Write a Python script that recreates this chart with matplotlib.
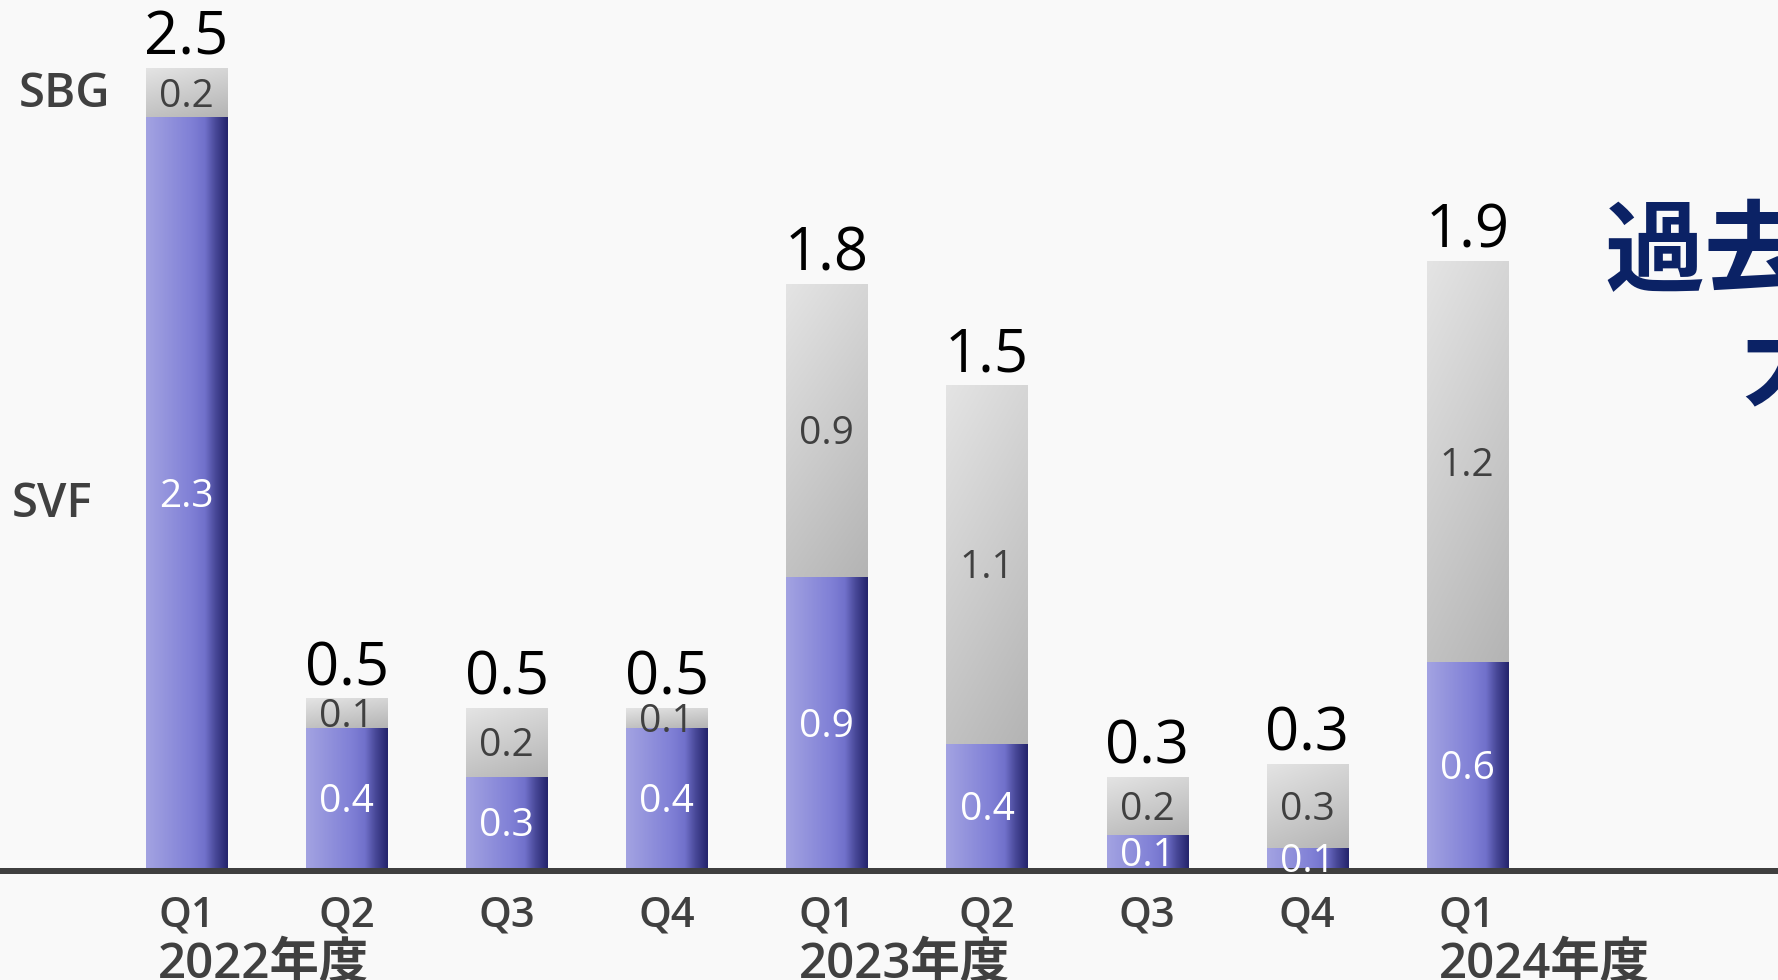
import numpy as np
import matplotlib
matplotlib.use("Agg")
import matplotlib.pyplot as plt
from matplotlib.transforms import blended_transform_factory, offset_copy

# ---------------- data ----------------
quarters = ["Q1", "Q2", "Q3", "Q4", "Q1", "Q2", "Q3", "Q4", "Q1"]
fiscal_years = ["2022年度", "2023年度", "2024年度"]
year_start_idx = [0, 4, 8]
series_names = ["SVF", "SBG"]

svf = [2.30, 0.43, 0.28, 0.43, 0.89, 0.38, 0.10, 0.06, 0.63]
sbg = [0.15, 0.09, 0.21, 0.06, 0.90, 1.10, 0.18, 0.26, 1.23]

svf_labels = ["2.3", "0.4", "0.3", "0.4", "0.9", "0.4", "0.1", "0.1", "0.6"]
sbg_labels = ["0.2", "0.1", "0.2", "0.1", "0.9", "1.1", "0.2", "0.3", "1.2"]
total_labels = ["2.5", "0.5", "0.5", "0.5", "1.8", "1.5", "0.3", "0.3", "1.9"]

headline = ["過去最大", "大幅増加"]

# ---------------- figure ----------------
W, H, DPI = 1778, 980, 100
PX = 72 / DPI  # points per pixel
LATIN = ["Open Sans", "Noto Sans", "DejaVu Sans"]
CJK = ["Open Sans", "Noto Sans CJK JP", "DejaVu Sans"]

fig = plt.figure(figsize=(W / DPI, H / DPI), dpi=DPI, facecolor="#f9f9f9")
ax = fig.add_axes([0, 112 / H, 1, 868 / H])
ax.set_facecolor("none")

x = np.arange(len(quarters))
bar_w = 0.506
bars_svf = ax.bar(x, svf, width=bar_w, color="none", linewidth=0, zorder=2)
bars_sbg = ax.bar(x, sbg, bottom=svf, width=bar_w, color="none", linewidth=0, zorder=2)

# horizontal gradient for SVF
t = np.linspace(0, 1, 256)
stops = [0.0, 0.55, 0.72, 0.85, 1.0]
cols = np.array([[163, 163, 226], [128, 128, 214], [113, 113, 203],
                 [72, 72, 152], [36, 36, 108]]) / 255.0
svf_img = np.stack([np.interp(t, stops, cols[:, c]) for c in range(3)], axis=-1)[None, :, :]

# diagonal gradient for SBG (light top-left, darker bottom-right)
ty, tx = np.mgrid[0:1:64j, 0:1:64j]
v = (228 - 34 * ty - 14 * tx) / 255.0
sbg_img = np.stack([v, v, v], axis=-1)


def gradient_fill(rect, img):
    x0, y0 = rect.get_x(), rect.get_y()
    w, h = rect.get_width(), rect.get_height()
    im = ax.imshow(img, extent=[x0, x0 + w, y0, y0 + h], aspect="auto",
                   interpolation="bilinear", zorder=2)
    im.set_clip_path(rect)


for r in bars_svf:
    gradient_fill(r, svf_img)
for r in bars_sbg:
    gradient_fill(r, sbg_img)

ax.set_xlim(-1.165, 9.941)
ax.set_ylim(0, 868 / 326.5)

for s in ax.spines.values():
    s.set_visible(False)
ax.set_yticks([])

# baseline (slightly below the bar bottoms, as in the reference)
base_tr = offset_copy(ax.get_yaxis_transform(), fig=fig, x=0, y=-2.5 * PX, units="points")
ax.plot([0, 1], [0, 0], transform=base_tr, color="#3f3f3f", lw=6 * PX,
        solid_capstyle="butt", zorder=4, clip_on=False)

ax.set_xticks(x)
ax.set_xticklabels(quarters)
ax.tick_params(axis="x", length=0, pad=19, labelsize=30, labelcolor="#404040")
for lbl in ax.get_xticklabels():
    lbl.set_fontfamily(LATIN)
    lbl.set_fontweight("semibold")

# segment labels
for xi, s1, s2, l1, l2 in zip(x, svf, sbg, svf_labels, sbg_labels):
    ax.annotate(l1, (xi, s1 / 2), xytext=(0, -4 * PX), textcoords="offset points",
                ha="center", va="center", color="white",
                fontsize=28, family=LATIN, zorder=5)
    ax.annotate(l2, (xi, s1 + s2 / 2), xytext=(0, -4 * PX), textcoords="offset points",
                ha="center", va="center", color="#404040",
                fontsize=28, family=LATIN, zorder=5)

# total labels
for xi, s1, s2, lt in zip(x, svf, sbg, total_labels):
    ax.annotate(lt, (xi, s1 + s2), xytext=(0, 9.5), textcoords="offset points",
                ha="center", va="baseline", fontsize=43, family=LATIN,
                color="black", zorder=5)

# series names on the left
side_tr = blended_transform_factory(fig.transFigure, ax.transData)
ax.annotate(series_names[1], (19 / W, svf[0] + sbg[0] / 2), xycoords=side_tr,
            xytext=(0, -2 * PX), textcoords="offset points",
            ha="left", va="center", fontsize=34, family=LATIN,
            fontweight="semibold", color="#404040")
ax.annotate(series_names[0], (12 / W, svf[0] / 2), xycoords=side_tr,
            xytext=(0, -12 * PX), textcoords="offset points",
            ha="left", va="center", fontsize=34, family=LATIN,
            fontweight="semibold", color="#404040")

# fiscal year labels
year_tr = offset_copy(blended_transform_factory(ax.transData, fig.transFigure),
                      fig=fig, x=-20.5, y=0, units="points")
for idx, fy in zip(year_start_idx, fiscal_years):
    ax.text(x[idx], 1 - 940 / H, fy, transform=year_tr, ha="left", va="top",
            fontsize=35.5, family=CJK, fontweight="semibold", color="#404040")

# headline on the right (cut off by the figure edge)
fig.text(1604 / W, 1 - 254 / H, headline[0], ha="left", va="center",
         fontsize=72, fontweight="bold", color="#0b2265",
         family=["Noto Sans CJK JP", "DejaVu Sans"])
fig.text(1741 / W, 1 - 368 / H, headline[1], ha="left", va="center",
         fontsize=72, fontweight="bold", color="#0b2265",
         family=["Noto Sans CJK JP", "DejaVu Sans"])

fig.savefig("out.png", dpi=DPI, facecolor=fig.get_facecolor())
